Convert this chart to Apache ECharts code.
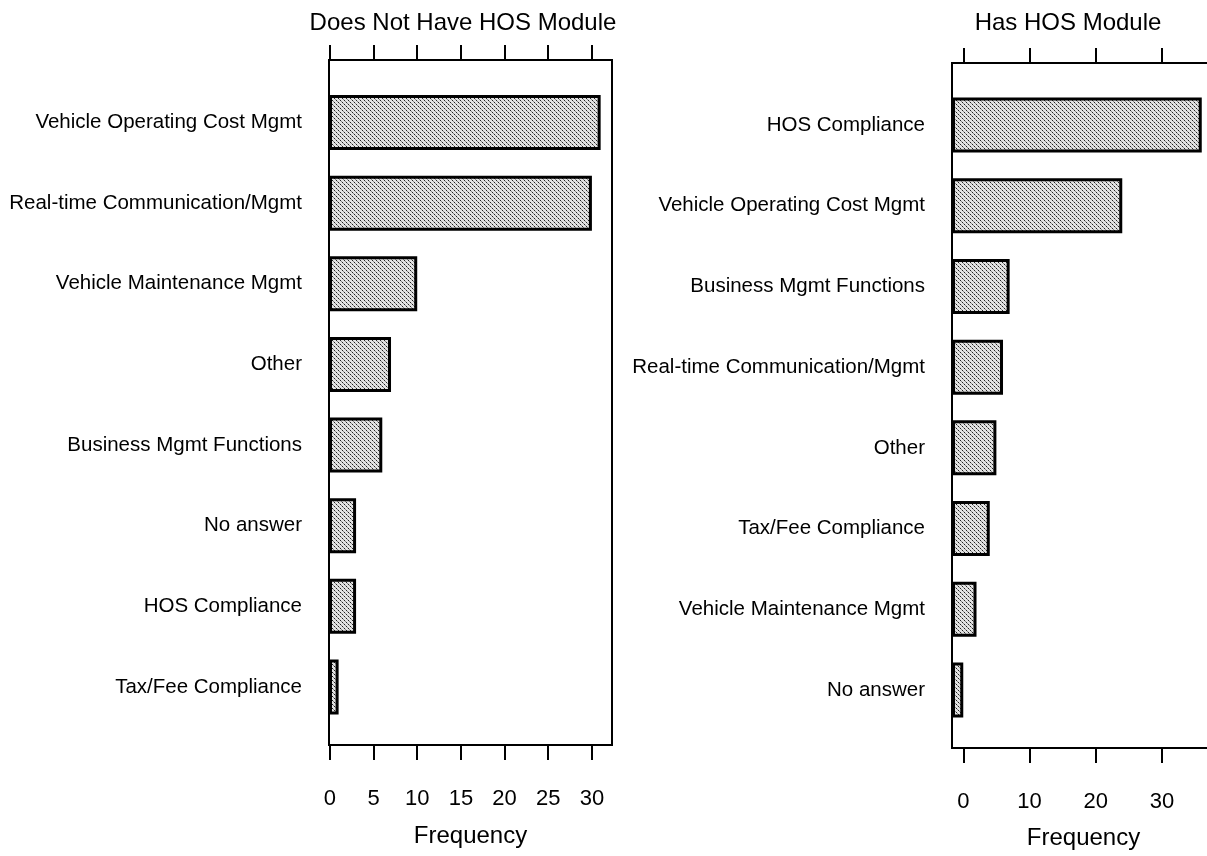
<!DOCTYPE html>
<html>
<head>
<meta charset="utf-8">
<script src="https://cdn.jsdelivr.net/npm/echarts@6/dist/echarts.min.js"></script>
<style>
html,body{margin:0;padding:0;background:#fff;}
#chart{width:1207px;height:856px;}
</style>
</head>
<body>
<div id="chart"></div>
<script>
// ---- Data ----
const leftTitle = 'Does Not Have HOS Module';
const rightTitle = 'Has HOS Module';
const axisName = 'Frequency';
const leftCategories = ['Vehicle Operating Cost Mgmt','Real-time Communication/Mgmt','Vehicle Maintenance Mgmt','Other','Business Mgmt Functions','No answer','HOS Compliance','Tax/Fee Compliance'];
const leftValues = [31, 30, 10, 7, 6, 3, 3, 1];
const rightCategories = ['HOS Compliance','Vehicle Operating Cost Mgmt','Business Mgmt Functions','Real-time Communication/Mgmt','Other','Tax/Fee Compliance','Vehicle Maintenance Mgmt','No answer'];
const rightValues = [36, 24, 7, 6, 5, 4, 2, 0];
const leftTicks = [0, 5, 10, 15, 20, 25, 30];
const rightTicks = [0, 10, 20, 30];

// ---- Stipple pattern ----
const tile = document.createElement('canvas');
tile.width = 4; tile.height = 4;
const tc = tile.getContext('2d');
tc.fillStyle = '#e2e2e2'; tc.fillRect(0,0,4,4);
tc.fillStyle = '#222';
tc.fillRect(0,0,1,1); tc.fillRect(2,2,1,1);
tc.fillStyle = '#8a8a8a';
tc.fillRect(1,1,1,1); tc.fillRect(3,3,1,1);
const pattern = {image: tile, repeat: 'repeat'};

const FONT = 'Liberation Sans, Arial, Helvetica, sans-serif';

function frameAxes(gridIndex, min, max, ticks, labelMargin, nameGap) {
  const bottom = {
    type: 'value', gridIndex: gridIndex, position: 'bottom', min: min, max: max,
    axisLine: {show: false},
    splitLine: {show: false},
    axisTick: {show: true, customValues: ticks, length: 15, lineStyle: {color: '#000', width: 2}},
    axisLabel: {show: true, customValues: ticks, margin: labelMargin, color: '#000', fontSize: 22, fontFamily: FONT},
    name: axisName, nameLocation: 'middle', nameGap: nameGap,
    nameTextStyle: {color: '#000', fontSize: 24, fontFamily: FONT}
  };
  const top = {
    type: 'value', gridIndex: gridIndex, position: 'top', min: min, max: max,
    axisLine: {show: false},
    splitLine: {show: false},
    axisTick: {show: true, customValues: ticks, length: 15, lineStyle: {color: '#000', width: 2}},
    axisLabel: {show: false}
  };
  return [bottom, top];
}

const L = {min: -0.1, max: 32.3};
const R = {min: -1.7, max: 38};

const option = {
  animation: false,
  backgroundColor: '#fff',
  graphic: [
    {type: 'text', x: 463, y: 23, style: {text: leftTitle, fill: '#000', font: '24px ' + FONT, align: 'center', verticalAlign: 'middle'}},
    {type: 'text', x: 1068, y: 23, style: {text: rightTitle, fill: '#000', font: '24px ' + FONT, align: 'center', verticalAlign: 'middle'}}
  ],
  grid: [
    {left: 329, top: 60, width: 283, height: 685, show: true, borderColor: '#000', borderWidth: 2, backgroundColor: 'transparent', outerBoundsMode: 'none', containLabel: false},
    {left: 329, top: 82.2, width: 283, height: 645, outerBoundsMode: 'none', containLabel: false},
    {left: 952, top: 63, width: 263, height: 685, show: true, borderColor: '#000', borderWidth: 2, backgroundColor: 'transparent', outerBoundsMode: 'none', containLabel: false},
    {left: 952, top: 84.7, width: 263, height: 645.6, outerBoundsMode: 'none', containLabel: false}
  ],
  xAxis: [
    ...frameAxes(0, L.min, L.max, leftTicks, 43, 79),
    {type: 'value', gridIndex: 1, min: L.min, max: L.max, startValue: L.min, show: false},
    ...frameAxes(2, R.min, R.max, rightTicks, 43, 78),
    {type: 'value', gridIndex: 3, min: R.min, max: R.max, startValue: R.min, show: false}
  ],
  yAxis: [
    {type: 'value', gridIndex: 0, show: false},
    {type: 'category', gridIndex: 1, data: leftCategories, inverse: true,
      axisLine: {show: false}, axisTick: {show: false}, splitLine: {show: false},
      axisLabel: {margin: 27, color: '#000', fontSize: 20.5, fontFamily: FONT}},
    {type: 'value', gridIndex: 2, show: false},
    {type: 'category', gridIndex: 3, data: rightCategories, inverse: true,
      axisLine: {show: false}, axisTick: {show: false}, splitLine: {show: false},
      axisLabel: {margin: 27, color: '#000', fontSize: 20.5, fontFamily: FONT}}
  ],
  series: [
    {type: 'bar', xAxisIndex: 2, yAxisIndex: 1, data: leftValues, barWidth: 55,
      itemStyle: {color: pattern, borderColor: '#000', borderWidth: 3}},
    {type: 'bar', xAxisIndex: 5, yAxisIndex: 3, data: rightValues, barWidth: 55,
      itemStyle: {color: pattern, borderColor: '#000', borderWidth: 3}}
  ]
};

const chart = echarts.init(document.getElementById('chart'), null, {renderer: 'canvas'});
chart.setOption(option);
</script>
</body>
</html>
